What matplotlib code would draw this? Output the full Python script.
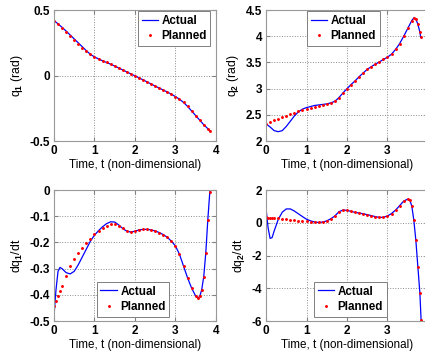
import matplotlib
matplotlib.use("Agg")
import matplotlib.pyplot as plt

plt.rcParams["font.family"] = ["Liberation Sans", "DejaVu Sans"]
plt.rcParams["font.weight"] = "bold"
plt.rcParams["font.size"] = 8
plt.rcParams["mathtext.fontset"] = "custom"
plt.rcParams["mathtext.bf"] = "Liberation Sans:bold"
plt.rcParams["mathtext.rm"] = "Liberation Sans:bold"
plt.rcParams["mathtext.default"] = "bf"

# q1 (rad)
t_q1 = [0, 0.1, 0.2, 0.3, 0.4, 0.5, 0.6, 0.7, 0.8, 0.9, 1.0, 1.1, 1.2, 1.3, 1.4,
        1.5, 1.6, 1.7, 1.8, 1.9, 2.0, 2.1, 2.2, 2.3, 2.4, 2.5, 2.6, 2.7, 2.8, 2.9,
        3.0, 3.1, 3.2, 3.3, 3.4, 3.5, 3.6, 3.7, 3.8, 3.85]
q1_plan = [0.42, 0.39, 0.36, 0.33, 0.30, 0.27, 0.24, 0.21, 0.185, 0.162, 0.143,
           0.127, 0.113, 0.10, 0.087, 0.073, 0.058, 0.043, 0.028, 0.013, -0.002,
           -0.017, -0.032, -0.048, -0.064, -0.08, -0.095, -0.11, -0.125, -0.142,
           -0.16, -0.18, -0.205, -0.235, -0.27, -0.305, -0.34, -0.375, -0.405, -0.42]
q1_act_start = [0.42, 0.395, 0.368, 0.34, 0.31, 0.28, 0.25, 0.22, 0.19]
q1_act = q1_act_start + q1_plan[9:]

# q2 (rad)
t_q2 = [0, 0.1, 0.2, 0.3, 0.4, 0.5, 0.6, 0.7, 0.8, 0.9, 1.0, 1.1, 1.2, 1.3, 1.4,
        1.5, 1.6, 1.7, 1.8, 1.9, 2.0, 2.1, 2.2, 2.3, 2.4, 2.5, 2.6, 2.7, 2.8, 2.9,
        3.0, 3.1, 3.2, 3.3, 3.4, 3.5, 3.6, 3.65, 3.7, 3.75, 3.8, 3.82]
q2_plan = [2.32, 2.36, 2.40, 2.43, 2.46, 2.48, 2.51, 2.54, 2.57, 2.60, 2.62, 2.64,
           2.66, 2.67, 2.69, 2.70, 2.72, 2.76, 2.83, 2.92, 3.00, 3.08, 3.15, 3.23,
           3.30, 3.37, 3.42, 3.47, 3.51, 3.56, 3.60, 3.66, 3.75, 3.86, 4.00, 4.15,
           4.30, 4.35, 4.33, 4.23, 4.08, 3.98]
q2_act_start = [2.33, 2.27, 2.20, 2.18, 2.20, 2.28, 2.38, 2.48, 2.56, 2.61, 2.64,
                2.66, 2.68, 2.69, 2.70, 2.71, 2.73]
q2_act = q2_act_start + q2_plan[17:]

# dq1/dt
t_dq1 = [0, 0.05, 0.1, 0.15, 0.2, 0.3, 0.4, 0.5, 0.6, 0.7, 0.8, 0.9, 1.0, 1.1,
         1.2, 1.3, 1.4, 1.5, 1.6, 1.7, 1.8, 1.9, 2.0, 2.1, 2.2, 2.3, 2.4, 2.5,
         2.6, 2.7, 2.8, 2.9, 3.0, 3.1, 3.2, 3.3, 3.4, 3.5, 3.55, 3.6, 3.65, 3.7,
         3.75, 3.8, 3.85]
dq1_plan = [-0.444, -0.425, -0.405, -0.385, -0.365, -0.327, -0.29, -0.262, -0.24,
            -0.221, -0.203, -0.186, -0.169, -0.157, -0.146, -0.138, -0.131, -0.13,
            -0.136, -0.146, -0.156, -0.161, -0.157, -0.152, -0.15, -0.15, -0.152,
            -0.156, -0.162, -0.17, -0.18, -0.195, -0.213, -0.245, -0.29, -0.335,
            -0.374, -0.404, -0.412, -0.406, -0.38, -0.33, -0.24, -0.114, -0.006]
dq1_act_start = [-0.48, -0.38, -0.31, -0.295, -0.30, -0.315, -0.32, -0.31, -0.285,
                 -0.255, -0.225, -0.195, -0.172, -0.155, -0.14, -0.128, -0.121,
                 -0.122, -0.133, -0.147, -0.157, -0.16]
dq1_act = dq1_act_start + dq1_plan[22:]

# dq2/dt
t_dq2 = [0, 0.05, 0.1, 0.15, 0.2, 0.3, 0.4, 0.5, 0.6, 0.7, 0.8, 0.9, 1.0, 1.1,
         1.2, 1.3, 1.4, 1.5, 1.6, 1.7, 1.8, 1.9, 2.0, 2.1, 2.2, 2.3, 2.4, 2.5,
         2.6, 2.7, 2.8, 2.9, 3.0, 3.1, 3.2, 3.3, 3.4, 3.5, 3.55, 3.6, 3.65, 3.7,
         3.75, 3.8, 3.83]
dq2_plan = [0.33, 0.32, 0.31, 0.30, 0.29, 0.27, 0.24, 0.21, 0.19, 0.16, 0.14, 0.11,
            0.09, 0.07, 0.06, 0.05, 0.05, 0.10, 0.21, 0.42, 0.68, 0.78, 0.76, 0.70,
            0.64, 0.60, 0.55, 0.50, 0.44, 0.38, 0.33, 0.34, 0.42, 0.57, 0.78, 1.05,
            1.33, 1.45, 1.39, 1.03, 0.17, -1.05, -2.67, -4.29, -5.92]
dq2_act_start = [0.85, -0.3, -0.95, -0.9, -0.5, 0.2, 0.65, 0.85, 0.85, 0.72, 0.55,
                 0.38, 0.22, 0.12, 0.05, 0.02, 0.05, 0.12, 0.25]
dq2_act = dq2_act_start + dq2_plan[19:]

panels = [
    (t_q1, q1_act, q1_plan, r"q$_{1}$ (rad)", (-0.5, 0.5), [-0.5, 0, 0.5], ["-0.5", "0", "0.5"],
     [0.127, 0.608], dict(loc="upper right", bbox_to_anchor=(0.965, 0.99))),
    (t_q2, q2_act, q2_plan, r"q$_{2}$ (rad)", (2, 4.5), [2, 2.5, 3, 3.5, 4, 4.5],
     ["2", "2.5", "3", "3.5", "4", "4.5"],
     [0.626, 0.608], dict(loc="upper left", bbox_to_anchor=(0.255, 0.99))),
    (t_dq1, dq1_act, dq1_plan, r"dq$_{1}$/dt", (-0.5, 0), [-0.5, -0.4, -0.3, -0.2, -0.1, 0],
     ["-0.5", "-0.4", "-0.3", "-0.2", "-0.1", "0"],
     [0.127, 0.108], dict(loc="lower left", bbox_to_anchor=(0.265, 0.035))),
    (t_dq2, dq2_act, dq2_plan, r"dq$_{2}$/dt", (-6, 2), [-6, -4, -2, 0, 2],
     ["-6", "-4", "-2", "0", "2"],
     [0.626, 0.108], dict(loc="lower left", bbox_to_anchor=(0.298, 0.035))),
]

fig = plt.figure(figsize=(4.25, 3.6), dpi=100)
for t, act, plan, ylab, ylim, yt, ytl, pos, legkw in panels:
    ax = fig.add_axes([pos[0], pos[1], 0.381, 0.364])
    ax.plot(t, act, color="blue", lw=0.9, label="Actual")
    ax.plot(t, plan, ".", color="red", ms=2.2, label="Planned")
    ax.set_xlim(0, 4)
    ax.set_ylim(*ylim)
    ax.set_xticks([0, 1, 2, 3, 4])
    ax.set_yticks(yt)
    ax.set_yticklabels(ytl)
    ax.grid(True, ls=":", color="0.55", lw=0.7)
    ax.tick_params(direction="in", length=3, top=True, right=True, color="0.5",
                   labelsize=8.5, pad=3)
    for s in ax.spines.values():
        s.set_color("0.6")
        s.set_linewidth(0.8)
    ax.set_xlabel("Time, t (non-dimensional)", fontsize=8.4, labelpad=1)
    ax.set_ylabel(ylab, fontsize=8.8, labelpad=3)
    leg = ax.legend(fontsize=8.4, borderaxespad=0, borderpad=0.3, labelspacing=0.3,
                    handlelength=1.4, handletextpad=0.3, fancybox=False,
                    framealpha=1, edgecolor="0.5", markerscale=1, numpoints=1, **legkw)
    leg.get_frame().set_linewidth(0.7)

fig.savefig("out.png", dpi=100)
